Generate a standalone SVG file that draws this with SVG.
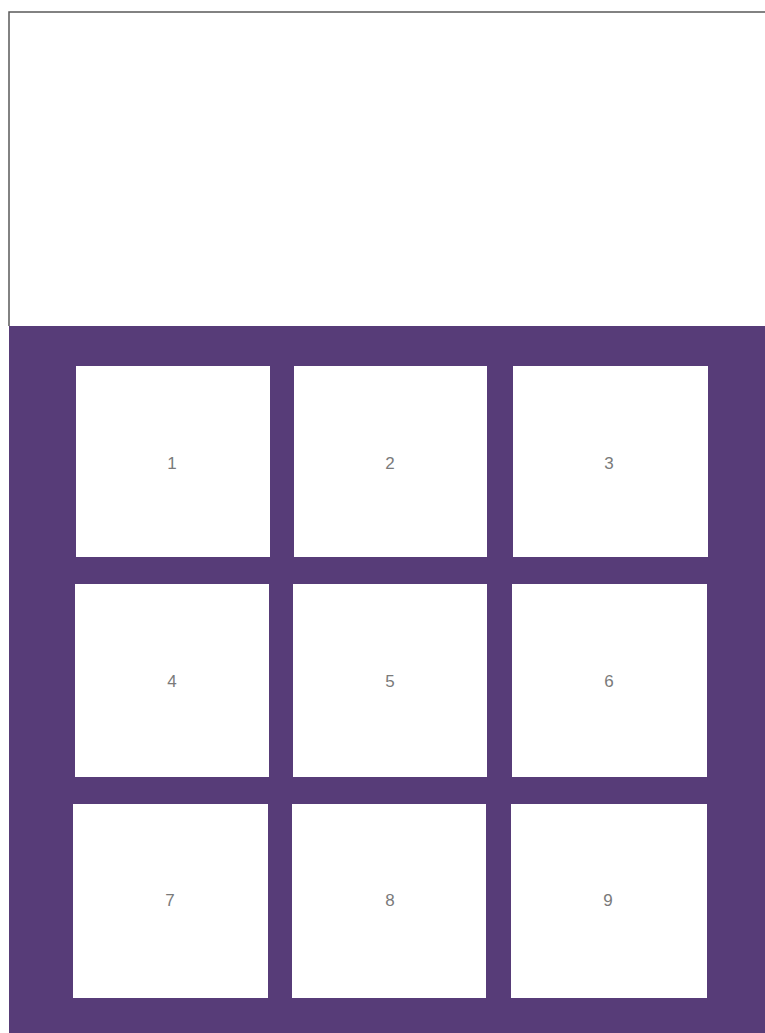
<svg xmlns="http://www.w3.org/2000/svg" width="765" height="1033" viewBox="0 0 765 1033">
<style>
.cell{fill:#ffffff;}
.lbl{font-family:"Liberation Sans",Arial,sans-serif;font-size:17px;fill:#7a7a7a;text-anchor:middle;dominant-baseline:central;}
</style>
<rect x="0" y="0" width="765" height="1033" fill="#ffffff"/>
<g id="frame">
<path d="M9,326 V12 H765" fill="none" stroke="#5a5a5a" stroke-width="1.5"/>
<rect x="9" y="326" width="756" height="707" fill="#573c78"/>
</g>
<g id="n1"><rect class="cell" x="76" y="366" width="194" height="191"/><text class="lbl" x="172" y="463">1</text></g>
<g id="n2"><rect class="cell" x="294" y="366" width="193" height="191"/><text class="lbl" x="390" y="463">2</text></g>
<g id="n3"><rect class="cell" x="513" y="366" width="195" height="191"/><text class="lbl" x="609" y="463">3</text></g>
<g id="n4"><rect class="cell" x="75" y="584" width="194" height="193"/><text class="lbl" x="172" y="681">4</text></g>
<g id="n5"><rect class="cell" x="293" y="584" width="194" height="193"/><text class="lbl" x="390" y="681">5</text></g>
<g id="n6"><rect class="cell" x="512" y="584" width="195" height="193"/><text class="lbl" x="609" y="681">6</text></g>
<g id="n7"><rect class="cell" x="73" y="804" width="195" height="194"/><text class="lbl" x="170" y="900">7</text></g>
<g id="n8"><rect class="cell" x="292" y="804" width="194" height="194"/><text class="lbl" x="390" y="900">8</text></g>
<g id="n9"><rect class="cell" x="511" y="804" width="196" height="194"/><text class="lbl" x="608" y="900">9</text></g>
<g id="connectors"></g>
</svg>
